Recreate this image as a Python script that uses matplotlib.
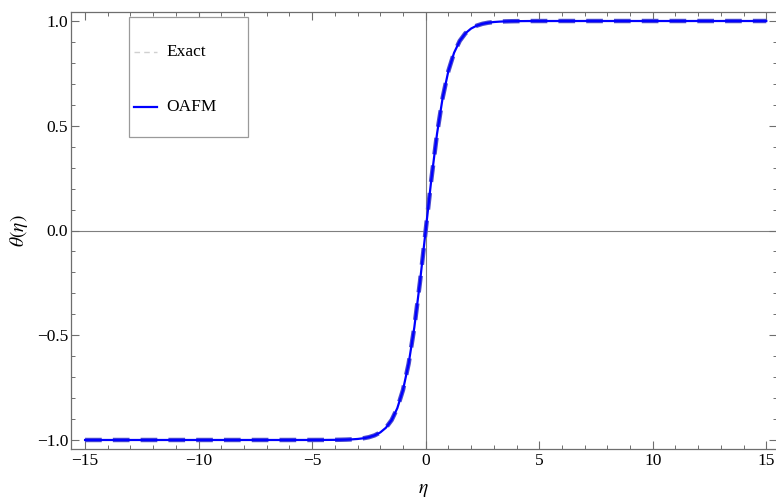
import matplotlib
matplotlib.use("Agg")
from matplotlib import pyplot as plt
from matplotlib.lines import Line2D
from matplotlib.patches import Rectangle
from matplotlib.ticker import MultipleLocator

# Values
eta = [-15, -14, -13, -12, -11, -10, -9, -8, -7, -6, -5, -4.5, -4, -3.75, -3.5,
       -3.25, -3, -2.75, -2.5, -2.25, -2, -1.75, -1.5, -1.25, -1, -0.75, -0.5,
       -0.25, 0, 0.25, 0.5, 0.75, 1, 1.25, 1.5, 1.75, 2, 2.25, 2.5, 2.75, 3,
       3.25, 3.5, 3.75, 4, 4.5, 5, 6, 7, 8, 9, 10, 11, 12, 13, 14, 15]
theta_exact = [-1.0, -1.0, -1.0, -1.0, -1.0, -1.0, -1.0, -1.0, -1.0, -1.0,
               -0.9999, -0.9998, -0.9993, -0.9989, -0.9982, -0.9970, -0.9951,
               -0.9919, -0.9866, -0.9780, -0.9640, -0.9414, -0.9051, -0.8483,
               -0.7616, -0.6351, -0.4621, -0.2449, 0.0, 0.2449, 0.4621, 0.6351,
               0.7616, 0.8483, 0.9051, 0.9414, 0.9640, 0.9780, 0.9866, 0.9919,
               0.9951, 0.9970, 0.9982, 0.9989, 0.9993, 0.9998, 0.9999, 1.0, 1.0,
               1.0, 1.0, 1.0, 1.0, 1.0, 1.0, 1.0, 1.0]
theta_oafm = [-1.0, -1.0, -1.0, -1.0, -1.0, -1.0, -1.0, -1.0, -1.0, -1.0,
              -0.9999, -0.9998, -0.9993, -0.9989, -0.9982, -0.9970, -0.9951,
              -0.9919, -0.9866, -0.9780, -0.9640, -0.9414, -0.9051, -0.8483,
              -0.7616, -0.6351, -0.4621, -0.2449, 0.0, 0.2449, 0.4621, 0.6351,
              0.7616, 0.8483, 0.9051, 0.9414, 0.9640, 0.9780, 0.9866, 0.9919,
              0.9951, 0.9970, 0.9982, 0.9989, 0.9993, 0.9998, 0.9999, 1.0, 1.0,
              1.0, 1.0, 1.0, 1.0, 1.0, 1.0, 1.0, 1.0]
series_names = ["Exact", "OAFM"]

plt.rcParams["font.family"] = ["Liberation Serif", "DejaVu Serif"]
plt.rcParams["mathtext.fontset"] = "stix"
plt.rcParams["lines.scale_dashes"] = False

fig = plt.figure(figsize=(7.76, 4.99), dpi=100)
ax = fig.add_axes([71 / 776, 50 / 499, 705.5 / 776, 437 / 499])

# curves
ax.plot(eta, theta_exact, color="#4a4ad0", linewidth=3.2, linestyle=(0, (12, 8)), zorder=3)
ax.plot(eta, theta_oafm, color="#0000ff", linewidth=1.6, zorder=4)

# axes through origin
ax.axhline(0, color="#7f7f7f", linewidth=0.8, zorder=1)
ax.axvline(0, color="#7f7f7f", linewidth=0.8, zorder=1)

ax.set_xlim(-15.62, 15.45)
ax.set_ylim(-1.043, 1.043)
ax.xaxis.set_major_locator(MultipleLocator(5))
ax.xaxis.set_minor_locator(MultipleLocator(1))
ax.yaxis.set_major_locator(MultipleLocator(0.5))
ax.yaxis.set_minor_locator(MultipleLocator(0.1))
ax.xaxis.set_major_formatter(matplotlib.ticker.FuncFormatter(
    lambda v, p: ("\u2212%d" % abs(v)) if v < 0 else "%d" % v))
ax.yaxis.set_major_formatter(matplotlib.ticker.FuncFormatter(
    lambda v, p: ("\u2212%.1f" % abs(v)) if v < 0 else "%.1f" % v))
ax.tick_params(which="both", direction="in", top=True, right=True,
               color="#6e6e6e", labelsize=12.5, labelcolor="black")
ax.tick_params(which="major", length=6, width=0.8, pad=3)
ax.tick_params(which="minor", length=3, width=0.7)
ax.tick_params(axis="y", which="major", pad=2)
for s in ax.spines.values():
    s.set_color("#6e6e6e")
    s.set_linewidth(0.9)

ax.set_xlabel(r"$\eta$", fontsize=14)
ax.set_ylabel(r"$\theta(\eta)$", fontsize=14)
ax.xaxis.set_label_coords(0.5, -0.075)
ax.yaxis.set_label_coords(-0.058, 0.5)

# legend box
ax.add_patch(Rectangle((129 / 776, 1 - 137 / 499), 119 / 776, 120 / 499,
                       transform=fig.transFigure, facecolor="white",
                       edgecolor="#9a9a9a", linewidth=0.9, zorder=5))
leg_styles = [dict(color="#d0d0d0", linewidth=1.0, linestyle=(0, (4, 3))),
              dict(color="#0000ff", linewidth=1.6)]
for i, name in enumerate(series_names):
    yy = 1 - (52 + 55 * i) / 499
    fig.add_artist(Line2D([134 / 776, 157 / 776], [yy, yy], zorder=6, **leg_styles[i]))
    fig.text(166 / 776, yy, name, fontsize=12.5, va="center", ha="left", zorder=6)

fig.savefig("out.png", dpi=100)
